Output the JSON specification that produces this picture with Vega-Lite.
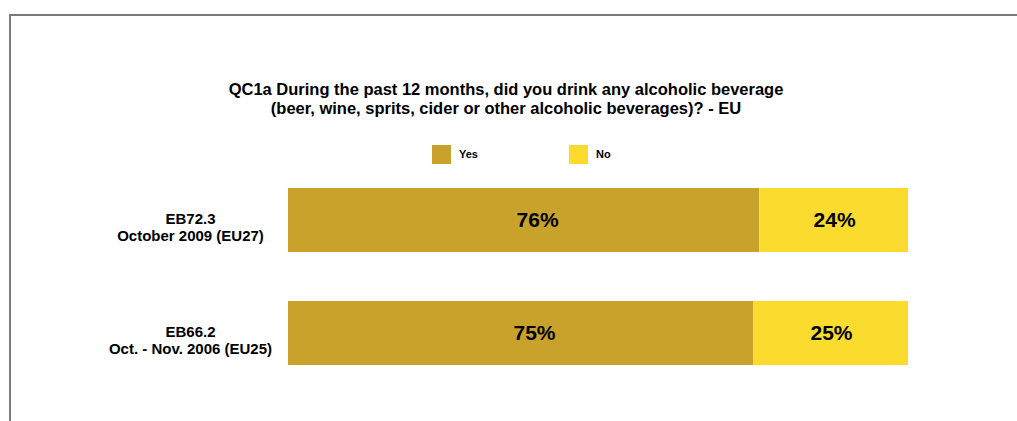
{
  "$schema": "https://vega.github.io/schema/vega-lite/v6.json",
  "width": 1020,
  "height": 430,
  "autosize": {"type": "none"},
  "padding": {"left": 10, "top": 15, "right": 0, "bottom": 0},
  "background": "white",
  "config": {
    "font": "Liberation Sans",
    "view": {"stroke": "#7a7a7a", "strokeWidth": 2},
    "axis": {"grid": false, "domain": false, "ticks": false}
  },
  "title": {
    "text": ["QC1a During the past 12 months, did you drink any alcoholic beverage", "(beer, wine, sprits, cider or other alcoholic beverages)? - EU"],
    "font": "Liberation Sans",
    "fontSize": 16.5,
    "fontWeight": "bold",
    "color": "#000000",
    "anchor": "middle",
    "frame": "group",
    "lineHeight": 19,
    "dx": -14,
    "dy": 106
  },
  "data": {
    "values": [
      {"wave": "EB72.3|October 2009 (EU27)", "answer": "Yes", "share": 0.76},
      {"wave": "EB72.3|October 2009 (EU27)", "answer": "No", "share": 0.24},
      {"wave": "EB66.2|Oct. - Nov. 2006 (EU25)", "answer": "Yes", "share": 0.75},
      {"wave": "EB66.2|Oct. - Nov. 2006 (EU25)", "answer": "No", "share": 0.25}
    ]
  },
  "transform": [
    {"stack": "share", "groupby": ["wave"], "sort": [{"field": "answer", "order": "descending"}], "as": ["x0", "x1"]}
  ],
  "encoding": {
    "y": {
      "field": "wave",
      "type": "nominal",
      "sort": null,
      "title": null,
      "scale": {"range": [173, 350], "paddingInner": 0.434, "paddingOuter": 0},
      "axis": {
        "offset": -278,
        "labelPadding": 98,
        "labelAlign": "center",
        "labelBaseline": "middle",
        "labelExpr": "split(datum.label, '|')",
        "labelFontSize": 15,
        "labelFontWeight": "bold",
        "labelColor": "#000000",
        "labelLineHeight": 17,
        "labelLimit": 300,
        "labelOffset": -1
      }
    }
  },
  "layer": [
    {
      "mark": {"type": "bar"},
      "encoding": {
        "x": {"field": "x0", "type": "quantitative", "axis": null, "scale": {"domain": [0, 1], "range": [278, 898], "nice": false, "zero": false}},
        "x2": {"field": "x1"},
        "color": {
          "field": "answer",
          "type": "nominal",
          "sort": ["Yes", "No"],
          "scale": {"domain": ["Yes", "No"], "range": ["#C9A22B", "#FADB2E"]},
          "legend": {
            "title": null,
            "orient": "none",
            "legendX": 422,
            "legendY": 130,
            "direction": "horizontal",
            "symbolType": "square",
            "symbolSize": 361,
            "symbolStrokeWidth": 0,
            "symbolOpacity": 1,
            "labelFontSize": 11,
            "labelFontWeight": "bold",
            "labelColor": "#000000",
            "labelOffset": 8,
            "columnPadding": 91
          }
        }
      }
    },
    {
      "transform": [
        {"fold": ["x0", "x1"], "as": ["edge", "pos"]},
        {"aggregate": [{"op": "mean", "field": "pos", "as": "mid"}], "groupby": ["wave", "answer", "share"]},
        {"filter": "datum.answer == 'Yes'"}
      ],
      "mark": {"type": "text", "fontSize": 21, "fontWeight": "bold", "color": "#000000", "dx": 14, "dy": 1, "baseline": "middle"},
      "encoding": {
        "x": {"field": "mid", "type": "quantitative"},
        "text": {"field": "share", "type": "quantitative", "format": ".0%"}
      }
    },
    {
      "transform": [
        {"fold": ["x0", "x1"], "as": ["edge", "pos"]},
        {"aggregate": [{"op": "mean", "field": "pos", "as": "mid"}], "groupby": ["wave", "answer", "share"]},
        {"filter": "datum.answer == 'No'"}
      ],
      "mark": {"type": "text", "fontSize": 21, "fontWeight": "bold", "color": "#000000", "dx": 1, "dy": 1, "baseline": "middle"},
      "encoding": {
        "x": {"field": "mid", "type": "quantitative"},
        "text": {"field": "share", "type": "quantitative", "format": ".0%"}
      }
    }
  ]
}
